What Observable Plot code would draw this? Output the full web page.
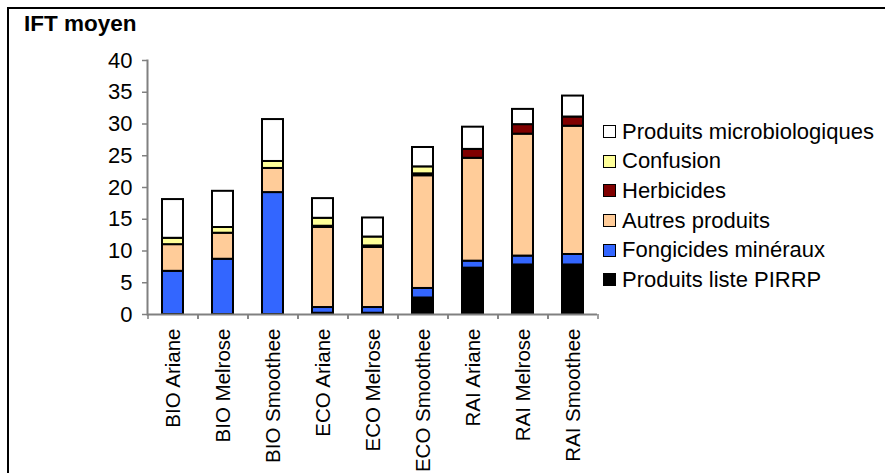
<!DOCTYPE html>
<html>
<head>
<meta charset="utf-8">
<script src="https://cdn.jsdelivr.net/npm/d3@7"></script>
<script src="https://cdn.jsdelivr.net/npm/@observablehq/plot@0.6"></script>
<style>
  html, body { margin: 0; padding: 0; background: #fff; }
  #wrap { position: relative; width: 885px; height: 473px; overflow: hidden; font-family: "Liberation Sans", Arial, sans-serif; }
  #border { position: absolute; left: 7px; top: 7px; width: 900px; height: 500px; border-left: 2px solid #000; border-top: 2px solid #000; }
  #title { position: absolute; left: 24px; top: 11px; font-size: 22.5px; font-weight: bold; line-height: 26px; }
  #chart { position: absolute; left: 0; top: 0; }
  #legend { position: absolute; left: 603px; top: 117px; font-size: 22px; }
  .row { display: flex; align-items: center; height: 29.6px; }
  .sw { width: 11px; height: 11px; border: 1.5px solid #000; margin-right: 6px; flex: none; }
</style>
</head>
<body>
<div id="wrap">
  <div id="border"></div>
  <div id="title">IFT moyen</div>
  <div id="chart"></div>
  <div id="legend"></div>
</div>
<script>
const categories = ["BIO Ariane","BIO Melrose","BIO Smoothee","ECO Ariane","ECO Melrose","ECO Smoothee","RAI Ariane","RAI Melrose","RAI Smoothee"];
const seriesNames = ["Produits liste PIRRP","Fongicides minéraux","Autres produits","Herbicides","Confusion","Produits microbiologiques"];
const seriesColors = ["#000000","#3366FF","#FFCC99","#800000","#FFFF99","#FFFFFF"];
const pirrp  = [0, 0, 0, 0.2, 0.2, 2.6, 7.3, 7.8, 7.8];
const fong   = [6.8, 8.7, 19.2, 0.9, 0.9, 1.5, 1.1, 1.4, 1.65];
const autres = [4.2, 4.1, 3.8, 12.6, 9.45, 17.75, 16.2, 19.2, 20.2];
const herb   = [0, 0, 0, 0.2, 0.25, 0.3, 1.4, 1.5, 1.45];
const conf   = [1.0, 0.9, 1.1, 1.25, 1.4, 1.1, 0, 0, 0];
const micro  = [6.1, 5.7, 6.6, 3.1, 3.0, 3.05, 3.5, 2.4, 3.3];
const yTicks = [0, 5, 10, 15, 20, 25, 30, 35, 40];

const seriesValues = [pirrp, fong, autres, herb, conf, micro];
const data = [];
seriesNames.forEach((s, si) => {
  categories.forEach((c, ci) => {
    const v = seriesValues[si][ci];
    if (v > 0) data.push({cat: c, serie: s, value: v});
  });
});

const font = "Liberation Sans, Arial, sans-serif";
const plot = Plot.plot({
  width: 885,
  height: 473,
  marginLeft: 147,
  marginRight: 288,
  marginTop: 60,
  marginBottom: 159,
  style: {fontFamily: font, background: "transparent", color: "#000"},
  x: {domain: categories, paddingInner: 0.58, paddingOuter: 0.29},
  y: {domain: [0, 40]},
  color: {domain: seriesNames, range: seriesColors},
  marks: [
    Plot.barY(data, {x: "cat", y: "value", fill: "serie", stroke: "#000", strokeWidth: 2, order: seriesNames}),
    Plot.axisY({ticks: yTicks, tickSize: 5, tickPadding: 10, fontSize: 22, label: null, stroke: "#808080", strokeWidth: 1.5}),
    Plot.axisX({tickRotate: -90, tickSize: 0, tickPadding: 14, fontSize: 20.5, label: null}),
    Plot.axisX({tickSize: 5, tickFormat: () => "", dx: -25, label: null, stroke: "#808080", strokeWidth: 1.5}),
    Plot.axisX({tickSize: 5, tickFormat: () => "", dx: 25, label: null, stroke: "#808080", strokeWidth: 1.5}),
    Plot.ruleY([0], {stroke: "#808080", strokeWidth: 2}),
    Plot.frame({anchor: "left", stroke: "#808080", strokeWidth: 2})
  ]
});
document.getElementById("chart").appendChild(plot);

const legend = document.getElementById("legend");
for (let i = seriesNames.length - 1; i >= 0; i--) {
  const row = document.createElement("div");
  row.className = "row";
  const sw = document.createElement("div");
  sw.className = "sw";
  sw.style.background = seriesColors[i];
  const t = document.createElement("span");
  t.textContent = seriesNames[i];
  row.appendChild(sw);
  row.appendChild(t);
  legend.appendChild(row);
}
</script>
</body>
</html>
